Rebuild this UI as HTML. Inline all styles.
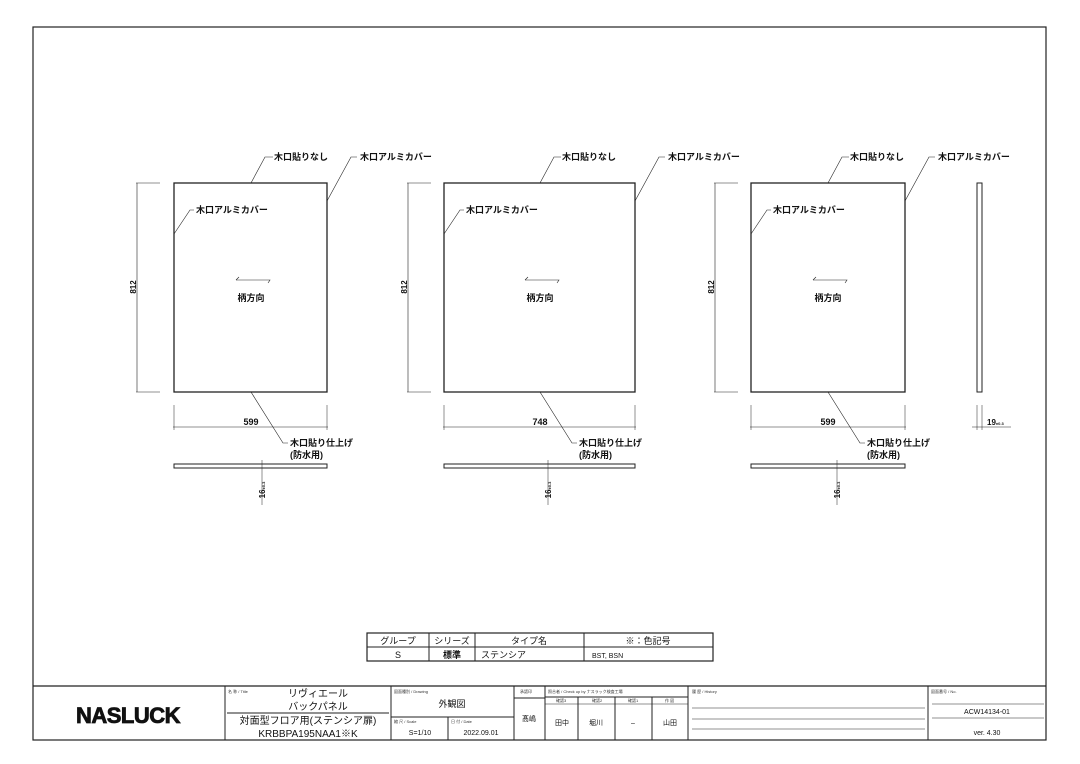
<!DOCTYPE html>
<html><head><meta charset="utf-8"><style>
html,body{margin:0;padding:0;background:#fff;}
svg{display:block;}
text{font-family:"Liberation Sans","Noto Sans CJK JP",sans-serif;fill:#111;}
.l{font-size:9px;font-weight:bold;}
.s{font-size:4px;fill:#333;}
</style></head><body>
<svg width="1080" height="764" viewBox="0 0 1080 764" xmlns="http://www.w3.org/2000/svg">
<g fill="none" stroke="#222" stroke-width="1">
<rect x="33" y="27" width="1013" height="713" stroke-width="1.2"/>
<rect x="174" y="183" width="153" height="209" stroke-width="1.3"/>
<line x1="137" y1="183" x2="137" y2="392" stroke-width="0.6"/>
<line x1="136" y1="183" x2="160" y2="183" stroke-width="0.6"/>
<line x1="136" y1="392" x2="160" y2="392" stroke-width="0.6"/>
<line x1="174" y1="405" x2="174" y2="430" stroke-width="0.5"/>
<line x1="327" y1="405" x2="327" y2="430" stroke-width="0.5"/>
<line x1="173" y1="427" x2="328" y2="427" stroke-width="0.6"/>
<rect x="174" y="464" width="153" height="4"/>
<line x1="262" y1="460" x2="262" y2="505" stroke-width="0.5"/>
<polyline points="251,183 265,157 273,157" stroke-width="0.6"/>
<polyline points="327,201 351,157 357,157" stroke-width="0.6"/>
<polyline points="174,234 190,210 194,210" stroke-width="0.6"/>
<polyline points="251,392 283,443 288,443" stroke-width="0.6"/>
<polyline points="236,280 270,280 268,283" stroke-width="0.6"/>
<line x1="236" y1="280" x2="239" y2="277" stroke-width="0.6"/>
<rect x="444" y="183" width="191" height="209" stroke-width="1.3"/>
<line x1="408" y1="183" x2="408" y2="392" stroke-width="0.6"/>
<line x1="407" y1="183" x2="431" y2="183" stroke-width="0.6"/>
<line x1="407" y1="392" x2="431" y2="392" stroke-width="0.6"/>
<line x1="444" y1="405" x2="444" y2="430" stroke-width="0.5"/>
<line x1="635" y1="405" x2="635" y2="430" stroke-width="0.5"/>
<line x1="443" y1="427" x2="636" y2="427" stroke-width="0.6"/>
<rect x="444" y="464" width="191" height="4"/>
<line x1="548" y1="460" x2="548" y2="505" stroke-width="0.5"/>
<polyline points="540,183 554,157 561,157" stroke-width="0.6"/>
<polyline points="635,201 659,157 665,157" stroke-width="0.6"/>
<polyline points="444,234 460,210 464,210" stroke-width="0.6"/>
<polyline points="540,392 572,443 577,443" stroke-width="0.6"/>
<polyline points="525,280 559,280 557,283" stroke-width="0.6"/>
<line x1="525" y1="280" x2="528" y2="277" stroke-width="0.6"/>
<rect x="751" y="183" width="154" height="209" stroke-width="1.3"/>
<line x1="715" y1="183" x2="715" y2="392" stroke-width="0.6"/>
<line x1="714" y1="183" x2="738" y2="183" stroke-width="0.6"/>
<line x1="714" y1="392" x2="738" y2="392" stroke-width="0.6"/>
<line x1="751" y1="405" x2="751" y2="430" stroke-width="0.5"/>
<line x1="905" y1="405" x2="905" y2="430" stroke-width="0.5"/>
<line x1="750" y1="427" x2="906" y2="427" stroke-width="0.6"/>
<rect x="751" y="464" width="154" height="4"/>
<line x1="837" y1="460" x2="837" y2="505" stroke-width="0.5"/>
<polyline points="828,183 842,157 849,157" stroke-width="0.6"/>
<polyline points="905,201 929,157 935,157" stroke-width="0.6"/>
<polyline points="751,234 767,210 771,210" stroke-width="0.6"/>
<polyline points="828,392 860,443 865,443" stroke-width="0.6"/>
<polyline points="813,280 847,280 845,283" stroke-width="0.6"/>
<line x1="813" y1="280" x2="816" y2="277" stroke-width="0.6"/>
<rect x="977" y="183" width="5" height="209"/>
<line x1="977" y1="405" x2="977" y2="430" stroke-width="0.5"/>
<line x1="982" y1="405" x2="982" y2="430" stroke-width="0.5"/>
<line x1="972" y1="427" x2="1011" y2="427" stroke-width="0.6"/>
<rect x="367" y="633" width="346" height="28" stroke-width="1.2"/>
<line x1="367" y1="647" x2="713" y2="647"/>
<line x1="429" y1="633" x2="429" y2="661"/>
<line x1="475" y1="633" x2="475" y2="661"/>
<line x1="584" y1="633" x2="584" y2="661"/>
<line x1="33" y1="686" x2="1046" y2="686" stroke-width="1.2"/>
<line x1="225" y1="686" x2="225" y2="740"/>
<line x1="227" y1="713" x2="389" y2="713"/>
<line x1="391" y1="686" x2="391" y2="740"/>
<line x1="391" y1="717" x2="514" y2="717"/>
<line x1="448" y1="717" x2="448" y2="740"/>
<line x1="514" y1="686" x2="514" y2="740"/>
<line x1="514" y1="698" x2="545" y2="698"/>
<line x1="545" y1="686" x2="545" y2="740"/>
<line x1="545" y1="697" x2="688" y2="697"/>
<line x1="545" y1="704" x2="688" y2="704" stroke-width="0.5"/>
<line x1="578" y1="697" x2="578" y2="740"/>
<line x1="615" y1="697" x2="615" y2="740"/>
<line x1="652" y1="697" x2="652" y2="740"/>
<line x1="688" y1="686" x2="688" y2="740"/>
<line x1="692" y1="708" x2="925" y2="708" stroke-width="0.6"/>
<line x1="692" y1="719" x2="925" y2="719" stroke-width="0.6"/>
<line x1="692" y1="729" x2="925" y2="729" stroke-width="0.6"/>
<line x1="928" y1="686" x2="928" y2="740"/>
<line x1="932" y1="704" x2="1044" y2="704" stroke-width="0.6"/>
<line x1="932" y1="718" x2="1044" y2="718" stroke-width="0.6"/>
</g>
<g class="l">
<text x="274" y="160">木口貼りなし</text><text x="360" y="160">木口アルミカバー</text>
<text x="196" y="213">木口アルミカバー</text><text x="251" y="301" text-anchor="middle">柄方向</text>
<text x="290" y="446">木口貼り仕上げ</text><text x="290" y="458">(防水用)</text>
<text x="251" y="425" text-anchor="middle">599</text>
<text x="562" y="160">木口貼りなし</text><text x="668" y="160">木口アルミカバー</text>
<text x="466" y="213">木口アルミカバー</text><text x="540" y="301" text-anchor="middle">柄方向</text>
<text x="579" y="446">木口貼り仕上げ</text><text x="579" y="458">(防水用)</text>
<text x="540" y="425" text-anchor="middle">748</text>
<text x="850" y="160">木口貼りなし</text><text x="938" y="160">木口アルミカバー</text>
<text x="773" y="213">木口アルミカバー</text><text x="828" y="301" text-anchor="middle">柄方向</text>
<text x="867" y="446">木口貼り仕上げ</text><text x="867" y="458">(防水用)</text>
<text x="828" y="425" text-anchor="middle">599</text>
<text transform="translate(136,287) rotate(-90)" text-anchor="middle" font-size="8">812</text>
<text transform="translate(407,287) rotate(-90)" text-anchor="middle" font-size="8">812</text>
<text transform="translate(714,287) rotate(-90)" text-anchor="middle" font-size="8">812</text>
<text transform="translate(265,490) rotate(-90)" text-anchor="middle" font-size="8">16<tspan font-size="4">±0.3</tspan></text>
<text transform="translate(551,490) rotate(-90)" text-anchor="middle" font-size="8">16<tspan font-size="4">±0.3</tspan></text>
<text transform="translate(840,490) rotate(-90)" text-anchor="middle" font-size="8">16<tspan font-size="4">±0.3</tspan></text>
<text x="987" y="425" font-size="8">19<tspan font-size="4">±0.3</tspan></text>
</g>
<g font-size="9">
<text x="398" y="644" text-anchor="middle">グループ</text>
<text x="452" y="644" text-anchor="middle">シリーズ</text>
<text x="529" y="644" text-anchor="middle">タイプ名</text>
<text x="648" y="644" text-anchor="middle">※：色記号</text>
<text x="398" y="658" text-anchor="middle">S</text>
<text x="452" y="658" text-anchor="middle" font-weight="bold">標準</text>
<text x="481" y="658">ステンシア</text>
<text x="592" y="658" font-size="7">BST, BSN</text>
</g>
<text x="128" y="723" text-anchor="middle" font-size="22" font-weight="900" letter-spacing="-0.5" stroke="#111" stroke-width="0.8">NASLUCK</text>
<text class="s" x="228" y="693">名 称 / Title</text>
<text x="318" y="697" text-anchor="middle" font-size="10">リヴィエール</text>
<text x="318" y="710" text-anchor="middle" font-size="10">バックパネル</text>
<text x="308" y="724" text-anchor="middle" font-size="10">対面型フロア用(ステンシア扉)</text>
<text x="308" y="737" text-anchor="middle" font-size="10">KRBBPA195NAA1※K</text>
<text class="s" x="394" y="693">図面種別 / Drawing</text>
<text x="452" y="707" text-anchor="middle" font-size="9">外観図</text>
<text class="s" x="394" y="723">縮 尺 / Scale</text>
<text class="s" x="451" y="723">日 付 / Date</text>
<text x="420" y="735" text-anchor="middle" font-size="7">S=1/10</text>
<text x="481" y="735" text-anchor="middle" font-size="7">2022.09.01</text>
<text class="s" x="520" y="693">承認印</text>
<text x="529" y="721" text-anchor="middle" font-size="7">髙嶋</text>
<text class="s" x="548" y="693">照合者 / Check up by ナスラック検査工場</text>
<text class="s" x="556" y="702">確認3</text><text class="s" x="592" y="702">確認2</text><text class="s" x="628" y="702">確認1</text><text class="s" x="665" y="702">作 図</text>
<text x="562" y="725" text-anchor="middle" font-size="7">田中</text>
<text x="596" y="725" text-anchor="middle" font-size="7">堀川</text>
<text x="633" y="725" text-anchor="middle" font-size="7">–</text>
<text x="670" y="725" text-anchor="middle" font-size="7">山田</text>
<text class="s" x="692" y="693">履 歴 / History</text>
<text class="s" x="931" y="693">図面番号 / No.</text>
<text x="987" y="714" text-anchor="middle" font-size="7">ACW14134-01</text>
<text x="987" y="735" text-anchor="middle" font-size="7">ver. 4.30</text>
</svg>
</body></html>
